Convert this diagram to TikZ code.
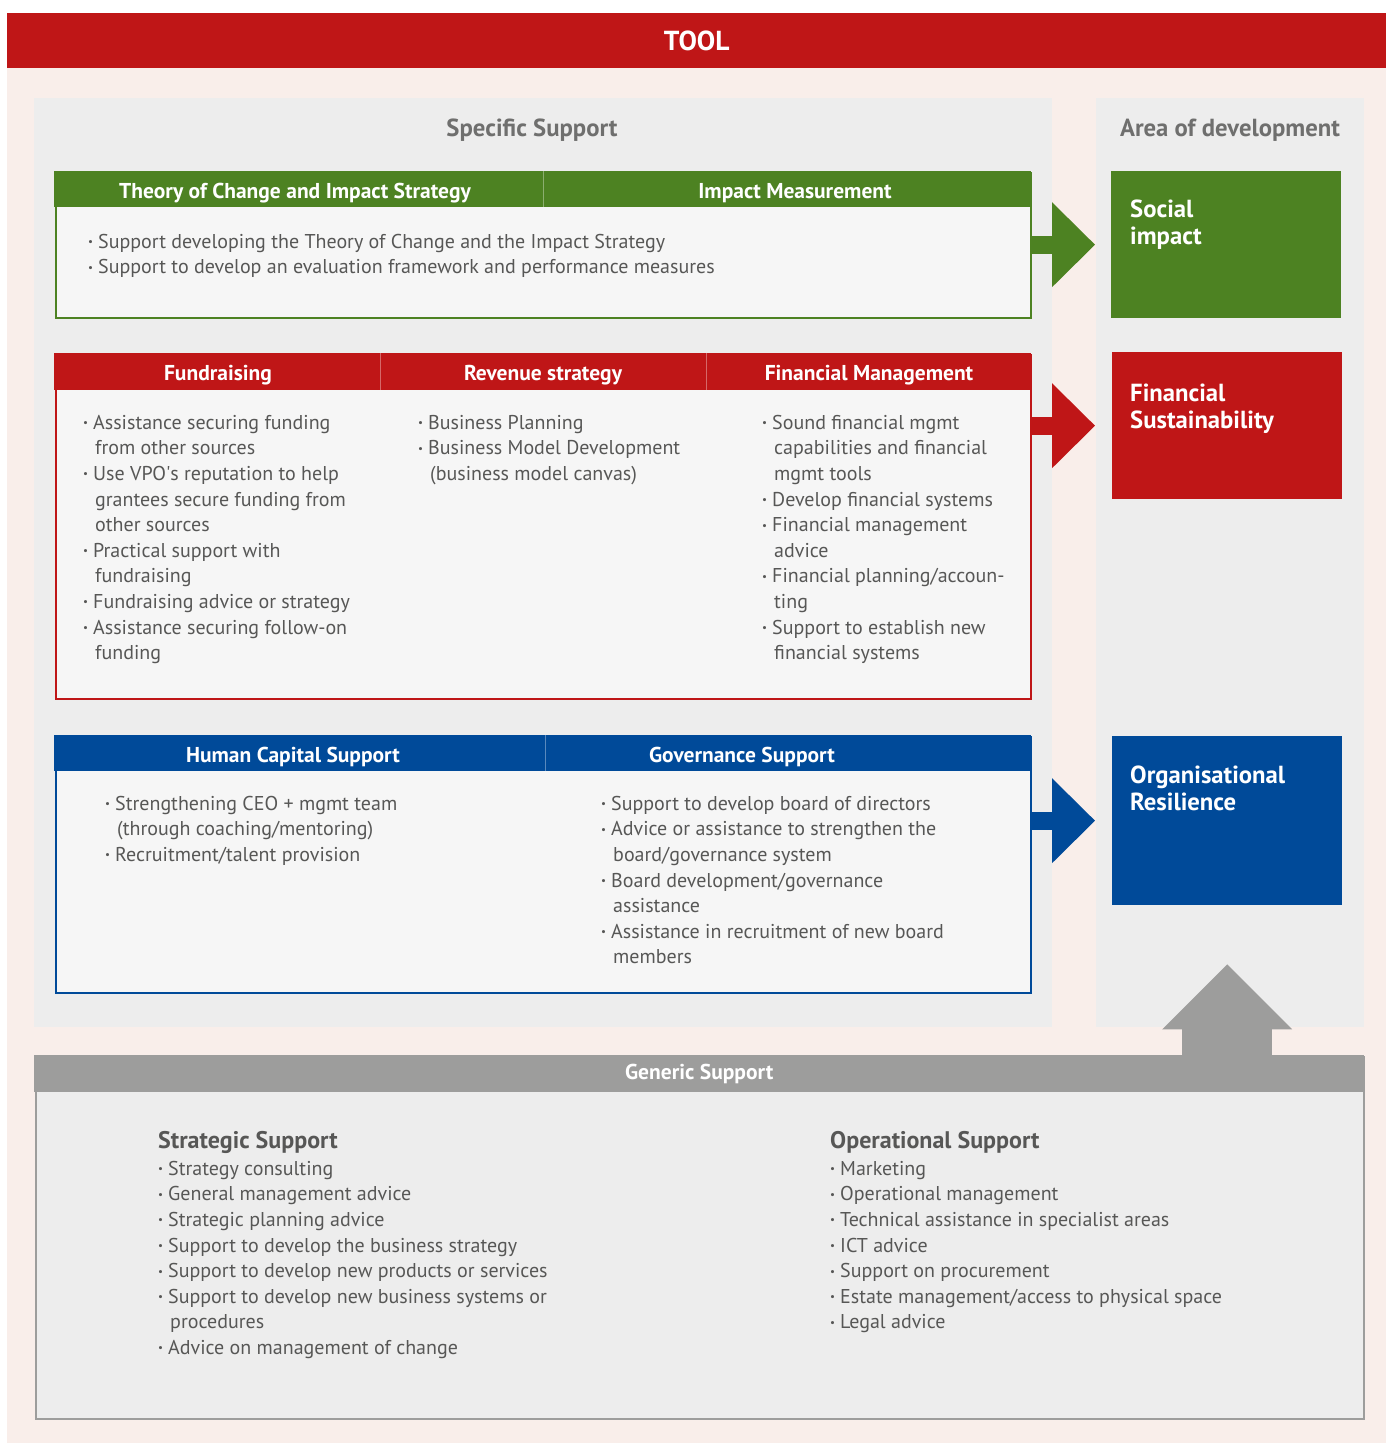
\documentclass[tikz,border=0pt]{standalone}
\usepackage{fontspec}
\setmainfont{PT Sans}
\usetikzlibrary{arrows.meta, positioning, calc}
\definecolor{toolRed}  {RGB}{191, 22,  23}
\definecolor{socGreen} {RGB}{77,  130, 34}
\definecolor{orgBlue}  {RGB}{0,   74,  153}
\definecolor{genGrey}  {RGB}{157, 157, 156}
\definecolor{panelGrey}{RGB}{237, 237, 237}
\definecolor{bgPink}   {RGB}{249, 238, 234}
\definecolor{cardWhite}{RGB}{246, 246, 246}
\definecolor{txtGrey}  {RGB}{87,  87,  86}
\definecolor{headGrey} {RGB}{111, 111, 110}

\newcommand{\bul}{\makebox[10pt][l]{\raisebox{2.5pt}{\scalebox{0.55}{\textbullet}}}}
\newcommand{\cont}{\hspace*{12pt}}
% first line of a list: 18pt from the node top to the baseline
\newcommand{\fl}{\rule{0pt}{18pt}}

\begin{document}
\begin{tikzpicture}[x=1pt, y=-1pt,
  panel/.style = {fill=panelGrey, inner sep=0pt, anchor=north west},
  card/.style = {fill=cardWhite, draw=#1, line width=2pt, inner sep=0pt, anchor=north west},
  cardhead/.style = {fill=#1, inner sep=0pt, anchor=north west, minimum width=977pt},
  divider/.style = {draw=white!35!#1, line width=1pt},
  headtxt/.style = {anchor=base, inner sep=0pt, text=white, font=\fontsize{21.5}{25}\selectfont\bfseries},
  list/.style = {anchor=north west, align=left, inner sep=0pt, text=txtGrey, font=\fontsize{20}{25.6}\selectfont},
  title/.style = {anchor=base, inner sep=0pt, text=headGrey, font=\fontsize{24.7}{28}\selectfont\bfseries},
  subhead/.style = {anchor=base west, inner sep=0pt, text=txtGrey, font=\fontsize{24}{28}\selectfont\bfseries},
  area/.style = {fill=#1, inner sep=0pt, anchor=north west, minimum width=230pt},
  areatxt/.style = {anchor=north west, align=left, inner sep=0pt, text=white, font=\fontsize{24.7}{27}\selectfont\bfseries},
  fat/.style = {line width=18pt, draw=#1, -{Triangle[length=43pt, width=85pt, line width=0pt]}}
]
  \useasboundingbox (0,0) rectangle (1386,1445);

  % background and title bar
  \fill[bgPink] (7,68) rectangle (1386,1443);
  \node[fill=toolRed, inner sep=0pt, anchor=north west, minimum width=1379pt, minimum height=55pt,
        text=white, font=\fontsize{27.5}{30}\selectfont\bfseries] (tool) at (7,13) {TOOL};

  \node[panel, minimum width=1018pt, minimum height=929pt] (specific) at (34,98) {};
  \node[panel, minimum width=268pt, minimum height=929pt] (areas) at (1096,98) {};
  \node[title] (spectitle) at (532,136) {Specific Support};
  \node[title] (areatitle) at (1230,136) {Area of development};

  % impact card
  \node[card=socGreen, minimum width=975pt, minimum height=145pt] (toc) at (55,172) {};
  \node[cardhead=socGreen, minimum height=36pt] (tochead) at (54,171) {};
  \draw[divider=socGreen] (543,171) -- (543,207);
  \node[headtxt] (tochdr) at (295,198) {Theory of Change and Impact Strategy};
  \node[headtxt] (meashdr) at (795,198) {Impact Measurement};
  \node[list] (toclist) at (88,230) {\fl
    \bul Support developing the Theory of Change and the Impact Strategy\\
    \bul Support to develop an evaluation framework and performance measures};

  % financial card
  \node[card=toolRed, minimum width=975pt, minimum height=344pt] (fin) at (55,354) {};
  \node[cardhead=toolRed, minimum height=37pt] (finhead) at (54,353) {};
  \draw[divider=toolRed] (380,353) -- (380,390);
  \draw[divider=toolRed] (706,353) -- (706,390);
  \node[headtxt] (fundhdr) at (218,380) {Fundraising};
  \node[headtxt] (revhdr) at (543,380) {Revenue strategy};
  \node[headtxt] (mgmthdr) at (869,380) {Financial Management};
  \node[list] (fundlist) at (83,411) {\fl
    \bul Assistance securing funding\\
    \cont from other sources\\
    \bul Use VPO\textquotesingle s reputation to help\\
    \cont grantees secure funding from\\
    \cont other sources\\
    \bul Practical support with\\
    \cont fundraising\\
    \bul Fundraising advice or strategy\\
    \bul Assistance securing follow-on\\
    \cont funding};
  \node[list] (revlist) at (418,411) {\fl
    \bul Business Planning\\
    \bul Business Model Development\\
    \cont (business model canvas)};
  \node[list] (mgmtlist) at (762,411) {\fl
    \bul Sound financial mgmt\\
    \cont capabilities and financial\\
    \cont mgmt tools\\
    \bul Develop financial systems\\
    \bul Financial management\\
    \cont advice\\
    \bul Financial planning/accoun-\\
    \cont ting\\
    \bul Support to establish new\\
    \cont financial systems};

  % organisation card
  \node[card=orgBlue, minimum width=975pt, minimum height=256pt] (gov) at (55,736) {};
  \node[cardhead=orgBlue, minimum height=36pt] (govhead) at (54,735) {};
  \draw[divider=orgBlue] (545,735) -- (545,771);
  \node[headtxt] (humhdr) at (293,762) {Human Capital Support};
  \node[headtxt] (govhdr) at (742,762) {Governance Support};
  \node[list] (humlist) at (105,792) {\fl
    \bul Strengthening CEO + mgmt team\\
    \cont (through coaching/mentoring)\\
    \bul Recruitment/talent provision};
  \node[list] (govlist) at (601,792) {\fl
    \bul Support to develop board of directors\\
    \bul Advice or assistance to strengthen the\\
    \cont board/governance system\\
    \bul Board development/governance\\
    \cont assistance\\
    \bul Assistance in recruitment of new board\\
    \cont members};

  % areas of development
  \node[area=socGreen, minimum height=147pt] (social) at (1111,171) {};
  \node[area=toolRed, minimum height=147pt] (finsus) at (1112,352) {};
  \node[area=orgBlue, minimum height=169pt] (orgres) at (1112,736) {};
  \node[areatxt] (socialtxt) at (1130,197) {\rule{0pt}{20pt}Social\\impact};
  \node[areatxt] (finsustxt) at (1130,381) {\rule{0pt}{20pt}Financial\\Sustainability};
  \node[areatxt] (orgrestxt) at (1130,763) {\rule{0pt}{20pt}Organisational\\Resilience};

  \draw[fat=socGreen, shorten >=16pt] (toc.east |- social) -- (social.west);
  \draw[fat=toolRed, shorten >=17pt] (fin.east |- finsus) -- (finsus.west);
  \draw[fat=orgBlue, shorten >=17pt] (gov.east |- orgres) -- (orgres.west);

  % generic support
  \node[card=genGrey, fill=panelGrey, minimum width=1328pt, minimum height=362pt] (generic) at (35,1056) {};
  \node[cardhead=genGrey, minimum width=1330pt, minimum height=37pt,
        text=white, font=\fontsize{21.5}{25}\selectfont\bfseries] (genhead) at (34,1055) {Generic Support};
  \draw[line width=90pt, draw=genGrey, -{Triangle[length=65pt, width=130pt, line width=0pt]},
        shorten >=59pt] (genhead.north -| orgres) -- (orgres.south);

  \node[subhead] (strathdr) at (158,1148) {Strategic Support};
  \node[list] (stratlist) at (158,1157) {\fl
    \bul Strategy consulting\\
    \bul General management advice\\
    \bul Strategic planning advice\\
    \bul Support to develop the business strategy\\
    \bul Support to develop new products or services\\
    \bul Support to develop new business systems or\\
    \cont procedures\\
    \bul Advice on management of change};
  \node[subhead] (ophdr) at (830,1148) {Operational Support};
  \node[list] (oplist) at (830,1157) {\fl
    \bul Marketing\\
    \bul Operational management\\
    \bul Technical assistance in specialist areas\\
    \bul ICT advice\\
    \bul Support on procurement\\
    \bul Estate management/access to physical space\\
    \bul Legal advice};
\end{tikzpicture}
\end{document}
